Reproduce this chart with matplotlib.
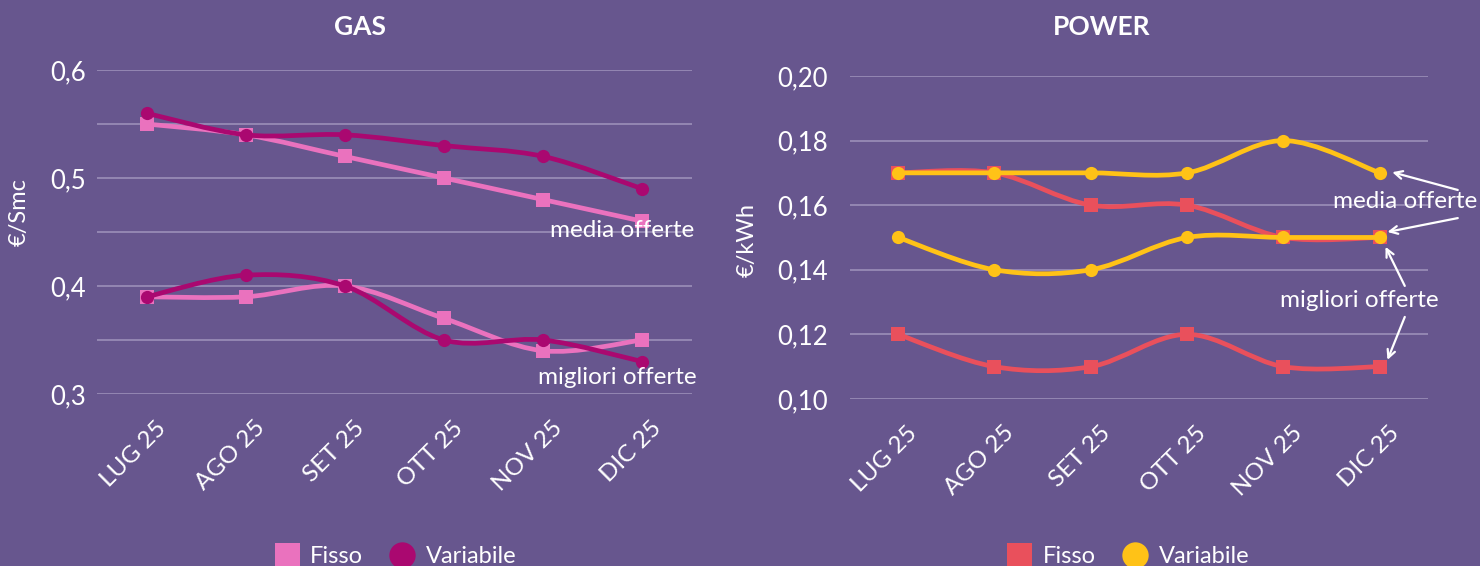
import numpy as np
import matplotlib.pyplot as plt
from matplotlib.path import Path
from matplotlib.patches import PathPatch
from matplotlib.lines import Line2D
from matplotlib.transforms import ScaledTranslation

plt.rcParams['font.family'] = ['Lato', 'DejaVu Sans']

# --- data ---
months = ['LUG 25', 'AGO 25', 'SET 25', 'OTT 25', 'NOV 25', 'DIC 25']

gas_fisso_media = [0.55, 0.54, 0.52, 0.50, 0.48, 0.46]
gas_fisso_migliori = [0.39, 0.39, 0.40, 0.37, 0.34, 0.35]
gas_var_media = [0.56, 0.54, 0.54, 0.53, 0.52, 0.49]
gas_var_migliori = [0.39, 0.41, 0.40, 0.35, 0.35, 0.33]

power_fisso_media = [0.17, 0.17, 0.16, 0.16, 0.15, 0.15]
power_fisso_migliori = [0.12, 0.11, 0.11, 0.12, 0.11, 0.11]
power_var_media = [0.17, 0.17, 0.17, 0.17, 0.18, 0.17]
power_var_migliori = [0.15, 0.14, 0.14, 0.15, 0.15, 0.15]

gas_ticks = [0.3, 0.4, 0.5, 0.6]
power_ticks = [0.10, 0.12, 0.14, 0.16, 0.18, 0.20]

BG = '#67568E'
GRID = '#978BB5'
GAS_FISSO = '#EA72BE'
GAS_VAR = '#AA0870'
PWR_FISSO = '#E9505C'
PWR_VAR = '#FFC217'


def smooth_path(x, y):
    # excel-like smoothed line: catmull-rom turned into bezier segments
    pts = np.column_stack([x, y]).astype(float)
    p = np.vstack([pts[0], pts, pts[-1]])
    verts = [pts[0]]
    codes = [Path.MOVETO]
    for i in range(1, len(p) - 2):
        c1 = p[i] + (p[i + 1] - p[i - 1]) / 6
        c2 = p[i + 1] - (p[i + 2] - p[i]) / 6
        verts += [c1, c2, p[i + 1]]
        codes += [Path.CURVE4] * 3
    return Path(verts, codes)


def draw_series(ax, y, color, marker, z):
    x = np.arange(len(y))
    ax.add_patch(PathPatch(smooth_path(x, y), fill=False, edgecolor=color,
                           lw=3.4, capstyle='round', joinstyle='round', zorder=z))
    ax.plot(x, y, ls='none', marker=marker, ms=9.5, color=color, mew=0, zorder=z + 0.5)


def style_axes(ax, ticks, minor, fmt, pad):
    ax.set_facecolor(BG)
    for s in ax.spines.values():
        s.set_visible(False)
    ax.set_xlim(-0.5, len(months) - 0.5)
    ax.set_ylim(ticks[0], ticks[-1])
    ax.set_yticks(ticks)
    ax.set_yticklabels([fmt.format(t).replace('.', ',') for t in ticks])
    ax.set_yticks(minor, minor=True)
    ax.grid(True, which='both', axis='y', color=GRID, lw=1.3)
    ax.set_axisbelow(True)
    ax.tick_params(axis='y', which='both', length=0, pad=pad, labelsize=18.5, labelcolor='white')
    ax.set_xticks(range(len(months)))
    ax.set_xticklabels(months, rotation=45, ha='right', va='center', rotation_mode='anchor')
    ax.tick_params(axis='x', length=0, pad=22, labelsize=17.5, labelcolor='white')
    for lab in ax.get_xticklabels():
        lab.set_transform(lab.get_transform() + ScaledTranslation(0.16, 0, fig.dpi_scale_trans))


fig = plt.figure(figsize=(14.8, 5.66), dpi=100)
fig.patch.set_facecolor(BG)

# --- GAS ---
ax1 = fig.add_axes([0.0655, 0.3039, 0.4020, 0.5724])
style_axes(ax1, gas_ticks, np.arange(0.30, 0.601, 0.05), '{:.1f}', 8)
draw_series(ax1, gas_fisso_media, GAS_FISSO, 's', 3)
draw_series(ax1, gas_fisso_migliori, GAS_FISSO, 's', 3)
draw_series(ax1, gas_var_media, GAS_VAR, 'o', 5)
draw_series(ax1, gas_var_migliori, GAS_VAR, 'o', 5)
ax1.text(5.52, 0.451, 'media offerte', ha='right', va='center', color='white', fontsize=17.5, zorder=8)
ax1.text(5.55, 0.315, 'migliori offerte', ha='right', va='center', color='white', fontsize=17.5, zorder=8)

# --- POWER ---
ax2 = fig.add_axes([0.5743, 0.2951, 0.3905, 0.5707])
style_axes(ax2, power_ticks, power_ticks, '{:.2f}', 16)
draw_series(ax2, power_fisso_media, PWR_FISSO, 's', 3)
draw_series(ax2, power_fisso_migliori, PWR_FISSO, 's', 3)
draw_series(ax2, power_var_media, PWR_VAR, 'o', 5)
draw_series(ax2, power_var_migliori, PWR_VAR, 'o', 5)
ax2.text(5.26, 0.161, 'media offerte', ha='center', va='center', color='white', fontsize=17.5, zorder=8)
ax2.text(4.79, 0.1306, 'migliori offerte', ha='center', va='center', color='white', fontsize=17.5, zorder=8)

arrows = [((5.81, 0.1647), (5.13, 0.1702)),
          ((5.81, 0.1560), (5.08, 0.1517)),
          ((5.26, 0.1350), (5.06, 0.1471)),
          ((5.26, 0.1254), (5.08, 0.1121))]
for start, end in arrows:
    ax2.annotate('', xy=end, xytext=start, annotation_clip=False,
                 arrowprops=dict(arrowstyle='->', color='white', lw=1.6,
                                 shrinkA=0, shrinkB=0, mutation_scale=14), zorder=9)

# --- titles / labels ---
fig.text(0.2432, 0.952, 'GAS', ha='center', va='center', color='white', fontsize=19, fontweight='bold')
fig.text(0.7446, 0.952, 'POWER', ha='center', va='center', color='white', fontsize=19, fontweight='bold')
fig.text(0.013, 0.625, '€/Smc', rotation=90, ha='center', va='center', color='white', fontsize=17)
fig.text(0.505, 0.576, '€/kWh', rotation=90, ha='center', va='center', color='white', fontsize=17)

# --- legends ---
for cx, c_f, c_v in [(0.267, GAS_FISSO, GAS_VAR), (0.762, PWR_FISSO, PWR_VAR)]:
    handles = [Line2D([], [], ls='none', marker='s', ms=18, color=c_f, mew=0),
               Line2D([], [], ls='none', marker='o', ms=19, color=c_v, mew=0)]
    leg = fig.legend(handles, ['Fisso', 'Variabile'], loc='center', bbox_to_anchor=(cx, 0.017),
                     ncol=2, frameon=False, fontsize=17, handlelength=1.1,
                     handletextpad=0.45, columnspacing=1.1, borderpad=0)
    for t in leg.get_texts():
        t.set_color('white')

fig.savefig('out.png', dpi=100, facecolor=BG)
